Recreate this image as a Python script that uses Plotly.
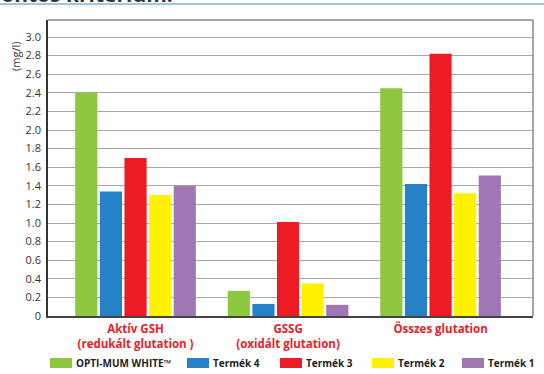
import plotly.graph_objects as go

categories = ["Aktív GSH<br>(redukált glutation )", "GSSG<br>(oxidált glutation)", "Összes glutation"]
series_names = ["OPTI-MUM WHITE™", "Termék 4", "Termék 3", "Termék 2", "Termék 1"]
series_colors = ["#8dc63f", "#2681c6", "#ed1c24", "#fff100", "#a077b5"]
opti_mum = [2.40, 0.27, 2.45]
termek4 = [1.34, 0.13, 1.42]
termek3 = [1.70, 1.01, 2.82]
termek2 = [1.30, 0.35, 1.32]
termek1 = [1.40, 0.12, 1.51]
series_values = [opti_mum, termek4, termek3, termek2, termek1]
y_ticks = [0, 0.2, 0.4, 0.6, 0.8, 1.0, 1.2, 1.4, 1.6, 1.8, 2.0, 2.2, 2.4, 2.6, 2.8, 3.0]
y_tick_labels = ["0"] + [f"{v:.1f}" for v in y_ticks[1:]]

W, H = 544, 374
L, R, T, B = 48, 11, 20, 58
pw, ph = W - L - R, H - T - B

def px(x):
    return (x - L) / pw

def py(y):
    return (H - B - y) / ph

fig = go.Figure()
for name, color, vals in zip(series_names, series_colors, series_values):
    fig.add_trace(go.Bar(x=[0, 1, 2], y=vals, name=name, marker_color=color,
                         marker_line_width=0, showlegend=False))

fig.update_layout(
    width=W, height=H, margin=dict(l=L, r=R, t=T, b=B, autoexpand=False),
    paper_bgcolor="white", plot_bgcolor="white",
    barmode="group", bargap=0.193, bargroupgap=0.1,
    font=dict(family="Open Sans", color="#333333"),
)
fig.update_xaxes(
    range=[-0.574, 2.606], tickvals=[0, 1, 2],
    ticktext=[f"<b>{c.replace('<br>', '</b><br><b>')}</b>" for c in categories],
    tickfont=dict(size=11.5, color="#e8202a", family="Open Sans"),
    showgrid=False, showline=True, linecolor="#444444", linewidth=1.5,
    ticks="", zeroline=False, ticklabelstandoff=1,
)
fig.update_yaxes(
    range=[0, 3.183], tickvals=y_ticks, ticktext=y_tick_labels,
    tickfont=dict(size=11, color="#333333", family="Open Sans"),
    showgrid=True, gridcolor="#a8a8a8", gridwidth=1.2,
    showline=True, linecolor="#333333", linewidth=1.5,
    ticks="", zeroline=False, ticklabelstandoff=3,
)
# top/right frame
fig.add_shape(type="line", xref="paper", yref="paper", x0=0, x1=1, y0=1, y1=1,
              line=dict(color="#888888", width=1.5))
fig.add_shape(type="line", xref="paper", yref="paper", x0=1, x1=1, y0=0, y1=1,
              line=dict(color="#888888", width=1.5))
# header rule
fig.add_shape(type="line", xref="paper", yref="paper", x0=px(0), x1=px(W), y0=py(4), y1=py(4),
              line=dict(color="#7fb3d5", width=1.5))
# cut-off heading (only its lower edge is visible, as in the reference)
fig.add_annotation(text="<b>fontos kritérium.</b>", xref="paper", yref="paper",
                   x=px(-9), y=py(10), xanchor="left", yanchor="bottom", showarrow=False,
                   font=dict(size=21, color="#333333", family="Open Sans"))
# unit label
fig.add_annotation(text="(mg/l)", xref="paper", yref="paper", x=px(15), y=py(57),
                   textangle=-90, showarrow=False, xanchor="center", yanchor="middle",
                   font=dict(size=11, color="#333333", family="Open Sans"))
# manual legend
legend_x = [50, 187, 280, 372, 462]
legend_y = 363
for name, color, lx in zip(series_names, series_colors, legend_x):
    fig.add_shape(type="rect", xref="paper", yref="paper", x0=px(lx), x1=px(lx + 22),
                  y0=py(legend_y + 5), y1=py(legend_y - 5), fillcolor=color, line_width=0)
    fig.add_annotation(text=f"<b>{name}</b>", xref="paper", yref="paper", x=px(lx + 24),
                       y=py(legend_y), xanchor="left", yanchor="middle", showarrow=False,
                       font=dict(size=10, color="#222222", family="Open Sans"))

fig.write_html("out.html")
